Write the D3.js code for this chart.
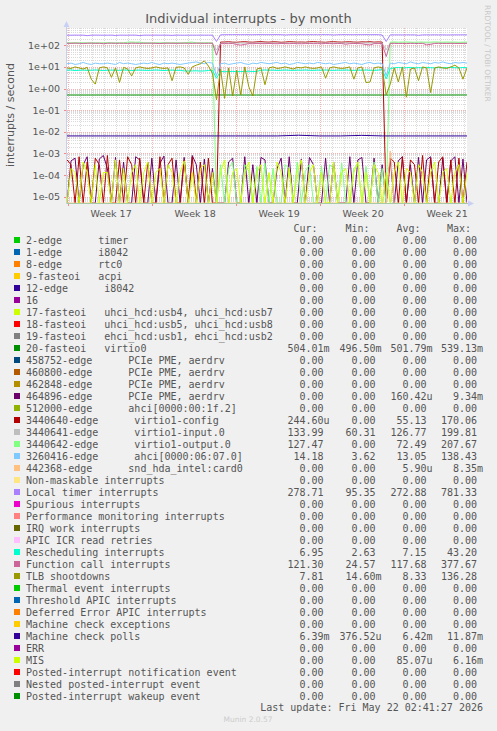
<!DOCTYPE html>
<html><head><meta charset="utf-8">
<script src="https://cdn.jsdelivr.net/npm/d3@7/dist/d3.min.js"></script>
<style>
html,body{margin:0;padding:0;background:#f0f0f0;}
svg{display:block;}
text{white-space:pre;}
</style></head><body>
<svg id="c" width="497" height="731"></svg>
<script>
// ---------------- DATA ----------------
const chartTitle = "Individual interrupts - by month";
const yAxisTitle = "interrupts / second";
const spanDays = 400 / 12;                       // month view, days shown
const weekLineDays = [0.083, 7.083, 14.083, 21.083, 28.083];
const weekLabels = ["Week 17", "Week 18", "Week 19", "Week 20", "Week 21"];
const yTickVals = [1e2, 1e1, 1e0, 1e-1, 1e-2, 1e-3, 1e-4, 1e-5];
const yTickLabels = ["1e+02", "1e+01", "1e+00", "1e-01", "1e-02", "1e-03", "1e-04", "1e-05"];

const legendNames = [
  "2-edge      timer", "1-edge      i8042", "8-edge      rtc0", "9-fasteoi   acpi",
  "12-edge      i8042", "16", "17-fasteoi   uhci_hcd:usb4, uhci_hcd:usb7",
  "18-fasteoi   uhci_hcd:usb5, uhci_hcd:usb8", "19-fasteoi   ehci_hcd:usb1, ehci_hcd:usb2",
  "20-fasteoi   virtio0", "458752-edge      PCIe PME, aerdrv", "460800-edge      PCIe PME, aerdrv",
  "462848-edge      PCIe PME, aerdrv", "464896-edge      PCIe PME, aerdrv",
  "512000-edge      ahci[0000:00:1f.2]", "3440640-edge      virtio1-config",
  "3440641-edge      virtio1-input.0", "3440642-edge      virtio1-output.0",
  "3260416-edge      ahci[0000:06:07.0]", "442368-edge      snd_hda_intel:card0",
  "Non-maskable interrupts", "Local timer interrupts", "Spurious interrupts",
  "Performance monitoring interrupts", "IRQ work interrupts", "APIC ICR read retries",
  "Rescheduling interrupts", "Function call interrupts", "TLB shootdowns",
  "Thermal event interrupts", "Threshold APIC interrupts", "Deferred Error APIC interrupts",
  "Machine check exceptions", "Machine check polls", "ERR", "MIS",
  "Posted-interrupt notification event", "Nested posted-interrupt event", "Posted-interrupt wakeup event"
];
const legendColors = [
  "#00CC00", "#0066B3", "#FF8000", "#FFCC00", "#330099", "#990099", "#CCFF00", "#FF0000", "#808080", "#008F00",
  "#00487D", "#B35A00", "#B38F00", "#6B006B", "#8FB300", "#B30000", "#BEBEBE", "#80FF80", "#80C9FF", "#FFC080",
  "#FFE680", "#AA80FF", "#EE00CC", "#FF8080", "#666600", "#FFBFFF", "#00FFCC", "#CC6699", "#999900",
  "#00CC00", "#0066B3", "#FF8000", "#FFCC00", "#330099", "#990099", "#CCFF00", "#FF0000", "#808080", "#008F00"
];
const curVals = ["0.00","0.00","0.00","0.00","0.00","0.00","0.00","0.00","0.00","504.01m",
  "0.00","0.00","0.00","0.00","0.00","244.60u","133.99","127.47","14.18","0.00",
  "0.00","278.71","0.00","0.00","0.00","0.00","6.95","121.30","7.81",
  "0.00","0.00","0.00","0.00","6.39m","0.00","0.00","0.00","0.00","0.00"];
const minVals = ["0.00","0.00","0.00","0.00","0.00","0.00","0.00","0.00","0.00","496.50m",
  "0.00","0.00","0.00","0.00","0.00","0.00","60.31","0.00","3.62","0.00",
  "0.00","95.35","0.00","0.00","0.00","0.00","2.63","24.57","14.60m",
  "0.00","0.00","0.00","0.00","376.52u","0.00","0.00","0.00","0.00","0.00"];
const avgVals = ["0.00","0.00","0.00","0.00","0.00","0.00","0.00","0.00","0.00","501.79m",
  "0.00","0.00","0.00","160.42u","0.00","55.13","126.77","72.49","13.05","5.90u",
  "0.00","272.88","0.00","0.00","0.00","0.00","7.15","117.68","8.33",
  "0.00","0.00","0.00","0.00","6.42m","0.00","85.07u","0.00","0.00","0.00"];
const maxVals = ["0.00","0.00","0.00","0.00","0.00","0.00","0.00","0.00","0.00","539.13m",
  "0.00","0.00","0.00","9.34m","0.00","170.06","199.81","207.67","138.43","8.35m",
  "0.00","781.33","0.00","0.00","0.00","0.00","43.20","377.67","136.28",
  "0.00","0.00","0.00","0.00","11.87m","0.00","6.16m","0.00","0.00","0.00"];
const lastUpdate = "Last update: Fri May 22 02:41:27 2026";

// series values (interrupts / second), sampled evenly across the month
const virtio0 = [0.502,0.501,0.503,0.501,0.502,0.502,0.501,0.503,0.502,0.501,
  0.502,0.503,0.501,0.502,0.502,0.501,0.503,0.502,0.502,0.504];
const pme464896 = [0,4.5e-4,6e-4,0,3e-4,7e-4,0,0,5.5e-4,8e-4, 2e-4,0,6.5e-4,0,4e-4,0,0,7e-4,5e-4,0,
  0,6e-4,0,3.5e-4,7.5e-4,0,0,5e-4,0,6.5e-4, 0,8e-4,3e-4,0,5.5e-4,0,2e-4,0,
  0,0,4e-4,6e-4,0,0,7e-4,0,3e-4,0, 6.5e-4,5e-4,0,0,2e-4,6e-4,0,7e-4,0,0,
  5.5e-4,0,6.5e-4,3e-4,0,0,6e-4,0,4e-4,0, 0,0,7e-4,0,5e-4,6.5e-4,0,0,6e-4,0, 3e-4,0,
  6e-4,0,4.5e-4,7e-4,0,3e-4,0,6.5e-4,0,5e-4, 7e-4,0,0,6e-4,0,4.5e-4,7e-4,0,5.5e-4,0];
const virtioConfig = [5e-4,3e-4,0,7e-4,0,4e-4,0,6e-4,3e-4,0, 8e-4,0,0,5e-4,0,7e-4,3e-4,0,6e-4,0,
  4e-4,0,0,7e-4,0,3e-4,6e-4,0,0,5e-4, 0,7e-4,0,4e-4,0,6e-4,0, 0,
  140,142,145,140,138,143,146,141,139,144, 147,142,140,145,143,138,141,146,144,140,
  142,139,145,147,143,141,138,144,146,142, 140,143,145,141,139,144,142,146,140,143, 141, 0,
  6e-4,4e-4,0,7e-4,0,5e-4,3e-4,0,8e-4,0, 6e-4,0,4e-4,7e-4,0,5e-4,0,6e-4,0,4e-4];
const virtioInput = [127,128,127,126,128,127,128,127,126,128, 127,128,127,128,126,127,128,127,128,127,
  126,128,127,128,127,126,128,127,128,127, 128,127,126,128,127,128,127, 60,
  126,127,128,127,126,128,127,128,127,126, 128,127,127,128,126,127,128,127,126,128,
  127,128,127,126,128,127,128,127,126,128, 127,128,127,128,126,127,128,127,128,126, 127, 62,
  127,128,126,127,128,127,126,128,127,128, 127,126,128,127,128,127,126,128,127,128];
const virtioOutput = [128,127,129,128,130,127,128,129,127,128, 130,128,127,129,128,140,142,138,141,129,
  128,127,129,128,130,128,127,129,128,128, 138,140,128,127,129,128,127, 0,
  3e-4,0,2e-4,4e-4,0,0,3e-4,1.5e-4,0,2.5e-4, 0,3.5e-4,0,2e-4,0,0,3e-4,2e-4,0,4e-4,
  0,1.5e-4,3e-4,0,0,2.5e-4,0,3e-4,2e-4,0, 3.5e-4,0,0,2e-4,3e-4,0,2.5e-4,0,4e-4,0, 2e-4, 0,
  140,142,139,141,143,140,138,142,141,139, 140,143,141,139,142,140,141,138,140,141];
const ahci = [14,15,13,14,16,14,13,15,14,14, 15,14,13,16,14,15,14,13,14,15,
  14,16,14,13,15,14,15,14,13,14, 15,16,17,15,14,16,15, 4,
  14,15,13,14,15,16,14,13,15,14, 16,15,14,15,16,14,15,13,14,16,
  15,14,15,14,16,15,14,15,13,14, 15,16,14,15,14,13,15,16,14,15, 14, 4,
  15,14,16,15,14,17,15,14,16,15, 14,16,15,17,15,14,16,15,16,15];
const sndCard = [0,0,0,0,0,0,0,0,0,0, 0,0,0,0,0,0,0,0,0,0, 0,0,0,0,0,0,0,0,0,0, 0,0,0,0,0,0,0,0,0,0,
  0,0,0,0,0,0,0,0,0,0, 0,0,0,0,0,0,0,0,0,0, 0,0,0,0,0,0,0,0,0,0, 0,0,0,0,0,0,0,0,0,0,
  1.3e-3,0,0,0,0,0,0,0,0,0, 0,0,0,0,0,0,0,0,0,0];
const localTimer = [295,293,296,294,295,280,294,296,295,293, 294,296,285,295,294,293,296,295,282,294,
  295,293,296,294,295,294,288,296,295,293, 294,295,293,296,294,295,293, 150,
  305,308,310,309,311,308,310,309,307,311, 310,309,308,310,311,309,300,308,310,309,
  311,308,310,309,308,311,310,309,300,308, 310,311,309,308,310,309,311,308,310,309, 300, 150,
  305,303,304,302,305,303,304,290,303,304, 302,305,303,304,300,302,304,303,305,304];
const rescheduling = [7,7.2,6.8,7,7.1,6.9,7,7.2,7,6.8, 7,7.1,7,6.9,7.2,7,6.8,7,7.1,7,
  6.9,7,7.2,7,6.8,7,7.1,6.9,7,6.5, 6.4,6.5,6.6,6.4,6.5,6.8,7, 3,
  6.2,6,6.1,6.2,6,6.1,6.2,6.3,6.1,6.2, 7,7.2,7,7.1,6.9,7,7.2,7,6.9,7.1,
  7,7.2,7,6.9,7.1,7,7.2,7,6.9,7.1, 7,7.2,7,6.9,7.1,7,7.2,7,6.9,7.1, 7.5, 2.8,
  8.5,9,9.5,9,9.2,9.5,9,9.3,9,9.5, 9.2,9,9.4,9.1,9.3,9.5,9.2,9,9.4,9.2];
const functionCall = [124,123,125,124,120,124,125,123,124,118, 124,125,123,124,124,122,125,124,123,124,
  125,124,123,120,124,125,124,123,124,125, 124,123,125,124,123,124,124, 35,
  118,120,119,121,108,102,110,120,118,121, 120,119,121,120,118,121,120,119,121,119,
  118,120,121,119,120,118,121,120,119,121, 120,112,119,121,120,118,108,104,119,120, 121, 30,
  122,123,121,122,120,123,122,121,123,105, 110,122,123,122,121,123,122,121,122,123];
const tlbShootdowns = [9,8.5,10,9,8,9.5,2.7,1.6,9,10, 9,3.3,9,1.9,9.5,8,3.8,9,10,9,
  8.5,9,10,9,8.5,9,2.3,9.5,10,9, 4.5,10,12,14,19,11,5, 0.3,
  8,0.35,9,0.45,7,0.5,10,1.2,0.45,8, 9,1.5,9,10,8.5,9,10,9,8,9.5,
  9,10,9,8.5,9,10,3,9,10,9, 8.5,9,10,2.7,9,10,1.9,2,9,10, 9, 0.5,
  1.6,9,2,10,0.4,8,9,2.3,10,9, 0.65,9,10,9,8.5,10,12,9,2.7,9];
const mcPolls = [0.0064,0.0064,0.0064,0.0064,0.0064,0.0064,0.0064,0.0064,0.0064,0.0064,
  0.0064,0.0069,0.0064,0.0064,0.0068,0.0064,0.0064,0.0064,0.0064,0.0064];
const mis = [0,2e-4,1.3e-4,0,4e-4,1.3e-4,0,3e-4,0,1.3e-4,
  1.3e-4,0,5e-4,0,2e-4,0,1.3e-4,3e-4,0,1.3e-4,
  4e-4,0,1.3e-4,2e-4,0,3e-4,1.3e-4,0,1.3e-4,4.5e-4,
  0,1.3e-4,0,2e-4,3e-4,0,1.3e-4,0,1.3e-4,5e-4,
  0,1.3e-4,2e-4,0,1.3e-4,4e-4,0,1.3e-4,3e-4,0,
  1.3e-4,0,4e-4,1.3e-4,0,2e-4,0,1.3e-4,5e-4,0,
  1.3e-4,3e-4,0,1.3e-4,0,0,4e-4,0,1.3e-4,2e-4,
  0,1.3e-4,4e-4,0,1.3e-4,0,3e-4,1.3e-4,0,1.3e-4,
  0,1.3e-4,4e-4,0,2e-4,1.3e-4,0,3e-4,1.3e-4,0,
  1.3e-4,4e-4,0,1.3e-4,2e-4,0,1.3e-4,3e-4,0,1.3e-4];

// drawing order follows legend order (legend row index -> values)
const drawnSeries = [
  [9, virtio0], [13, pme464896], [15, virtioConfig], [16, virtioInput], [17, virtioOutput],
  [18, ahci], [19, sndCard], [21, localTimer], [26, rescheduling], [27, functionCall],
  [28, tlbShootdowns], [33, mcPolls], [35, mis]
];

// ---------------- DRAWING ----------------
const svg = d3.select("#c");
const W = 497, H = 731;
const P = {l: 67, r: 467, t: 28, b: 203};
svg.append("rect").attr("width", W).attr("height", H).attr("fill", "#f0f0f0");
svg.append("rect").attr("x", P.l).attr("y", P.t).attr("width", P.r - P.l).attr("height", P.b - P.t).attr("fill", "#ffffff");

const x = d3.scaleLinear().domain([0, spanDays]).range([P.l, P.r]);
const y = d3.scaleLog().domain([Math.pow(10, -5.296), Math.pow(10, 2.80)]).range([P.b, P.t]).clamp(true);
const yMin = y.domain()[0];

svg.append("clipPath").attr("id", "pc").append("rect")
  .attr("x", P.l).attr("y", P.t - 1).attr("width", P.r - P.l).attr("height", P.b - P.t + 1);

const grid = svg.append("g").attr("shape-rendering", "crispEdges");
// minor horizontal
const minorH = [];
for (let k = -6; k <= 2; k++) for (let m = 2; m <= 9; m++) {
  const v = m * Math.pow(10, k);
  if (v > yMin && v < y.domain()[1]) minorH.push(v);
}
grid.selectAll(".mh").data(minorH).enter().append("line")
  .attr("x1", P.l).attr("x2", P.r)
  .attr("y1", d => Math.round(y(d)) + 0.5).attr("y2", d => Math.round(y(d)) + 0.5)
  .attr("stroke", "#dadada").attr("stroke-dasharray", "1,1");
// minor vertical (days)
const dayLines = d3.range(weekLineDays[0], spanDays, 1);
grid.selectAll(".mv").data(dayLines).enter().append("line")
  .attr("y1", P.t).attr("y2", P.b)
  .attr("x1", d => Math.round(x(d)) + 0.5).attr("x2", d => Math.round(x(d)) + 0.5)
  .attr("stroke", "#dadada").attr("stroke-dasharray", "1,1");
// major horizontal (decades)
grid.selectAll(".Mh").data(yTickVals).enter().append("line")
  .attr("x1", P.l).attr("x2", P.r)
  .attr("y1", d => Math.round(y(d)) + 0.5).attr("y2", d => Math.round(y(d)) + 0.5)
  .attr("stroke", "#f4b2b2").attr("stroke-dasharray", "1,1");
// major vertical (weeks)
grid.selectAll(".Mv").data(weekLineDays).enter().append("line")
  .attr("y1", P.t).attr("y2", P.b)
  .attr("x1", d => Math.round(x(d)) + 0.5).attr("x2", d => Math.round(x(d)) + 0.5)
  .attr("stroke", "#f4b2b2").attr("stroke-dasharray", "1,1");

// series
const gS = svg.append("g").attr("clip-path", "url(#pc)");
drawnSeries.forEach(([row, vals]) => {
  const n = vals.length;
  const line = d3.line()
    .x((d, i) => x(i * spanDays / (n - 1)))
    .y(d => y(d > 0 ? d : yMin));
  gS.append("path").datum(vals).attr("d", line)
    .attr("fill", "none").attr("stroke", legendColors[row]).attr("stroke-width", 1)
    .attr("stroke-linejoin", "round");
});

// axes lines
svg.append("line").attr("x1", P.l).attr("x2", P.r + 2).attr("y1", P.b + 0.5).attr("y2", P.b + 0.5)
  .attr("stroke", "#a6cba6").attr("shape-rendering", "crispEdges");
svg.append("line").attr("x1", P.l - 0.5).attr("x2", P.l - 0.5).attr("y1", P.b + 1).attr("y2", P.t - 4)
  .attr("stroke", "#c9cfe6").attr("shape-rendering", "crispEdges");
svg.append("path").attr("d", `M${P.l - 3.5},${P.t - 1} L${P.l + 2.5},${P.t - 1} L${P.l - 0.5},${P.t - 7} Z`)
  .attr("fill", "#c9d0f5");
svg.append("path").attr("d", `M${P.r + 1},${P.b - 2.5} L${P.r + 1},${P.b + 3.5} L${P.r + 7},${P.b + 0.5} Z`)
  .attr("fill", "#c9d0f5");
// tick marks
svg.selectAll(".wt").data(weekLineDays).enter().append("line")
  .attr("x1", d => Math.round(x(d)) + 0.5).attr("x2", d => Math.round(x(d)) + 0.5)
  .attr("y1", P.b + 1).attr("y2", P.b + 3).attr("stroke", "#f08a8a").attr("shape-rendering", "crispEdges");
svg.selectAll(".yt").data(yTickVals).enter().append("line")
  .attr("x1", P.l - 3).attr("x2", P.l - 1)
  .attr("y1", d => Math.round(y(d)) + 0.5).attr("y2", d => Math.round(y(d)) + 0.5)
  .attr("stroke", "#f08a8a").attr("shape-rendering", "crispEdges");

// axis labels via d3 axes
const yAx = svg.append("g").attr("transform", `translate(${P.l},0)`)
  .call(d3.axisLeft(y).tickValues(yTickVals).tickFormat((d, i) => yTickLabels[i]).tickSize(0).tickPadding(7));
yAx.select(".domain").remove();
yAx.selectAll("text").attr("font-family", "DejaVu Sans").attr("font-size", "9.5px").attr("fill", "#555");

const xAx = svg.append("g").attr("transform", `translate(0,${P.b})`)
  .call(d3.axisBottom(x).tickValues(weekLineDays.map(d => d + 3.55)).tickFormat((d, i) => weekLabels[i]).tickSize(0));
xAx.select(".domain").remove();
xAx.selectAll("text").attr("dy", null).attr("y", 13.5)
  .attr("font-family", "DejaVu Sans").attr("font-size", "9.5px").attr("fill", "#555");

// titles
svg.append("text").attr("x", 248.5).attr("y", 23.3).attr("text-anchor", "middle")
  .attr("font-family", "DejaVu Sans").attr("font-size", "13px").attr("fill", "#555").text(chartTitle);
svg.append("text").attr("transform", "translate(14,115) rotate(-90)").attr("text-anchor", "middle")
  .attr("font-family", "DejaVu Sans").attr("font-size", "11px").attr("fill", "#555").text(yAxisTitle);
svg.append("text").attr("transform", "translate(484.5,5) rotate(90)").attr("text-anchor", "start")
  .attr("font-family", "DejaVu Sans").attr("font-size", "7.5px").attr("fill", "#c8c8c8").text("RRDTOOL / TOBI OETIKER");

// legend
const mono = "DejaVu Sans Mono";
const colRight = [323.5, 375.5, 426.5, 477];
const headers = ["Cur:", "Min:", "Avg:", "Max:"];
headers.forEach((h, j) => {
  svg.append("text").attr("x", colRight[j] - 6).attr("y", 231.5).attr("text-anchor", "end")
    .attr("font-family", mono).attr("font-size", "10px").attr("fill", "#555").text(h);
});
const cols = [curVals, minVals, avgVals, maxVals];
const gL = svg.append("g");
legendNames.forEach((name, i) => {
  const by = 243.5 + 12 * i;
  gL.append("rect").attr("x", 14).attr("y", by - 6.5).attr("width", 6).attr("height", 6)
    .attr("fill", legendColors[i]);
  gL.append("text").attr("x", 26).attr("y", by).attr("font-family", mono).attr("font-size", "10px")
    .attr("fill", "#555").text(name);
  cols.forEach((arr, j) => {
    const s = arr[i];
    const unit = /[a-z]$/i.test(s) ? s.slice(-1) : "";
    const num = unit ? s.slice(0, -1) : s;
    gL.append("text").attr("x", colRight[j]).attr("y", by).attr("text-anchor", "end")
      .attr("font-family", mono).attr("font-size", "10px").attr("fill", "#555").text(num);
    if (unit) gL.append("text").attr("x", colRight[j]).attr("y", by)
      .attr("font-family", mono).attr("font-size", "10px").attr("fill", "#555").text(unit);
  });
});
svg.append("text").attr("x", 483).attr("y", 711).attr("text-anchor", "end")
  .attr("font-family", mono).attr("font-size", "10px").attr("fill", "#555").text(lastUpdate);
svg.append("text").attr("x", 248).attr("y", 722).attr("text-anchor", "middle")
  .attr("font-family", "DejaVu Sans").attr("font-size", "7.5px").attr("fill", "#cccccc").text("Munin 2.0.57");
</script>
</body></html>
